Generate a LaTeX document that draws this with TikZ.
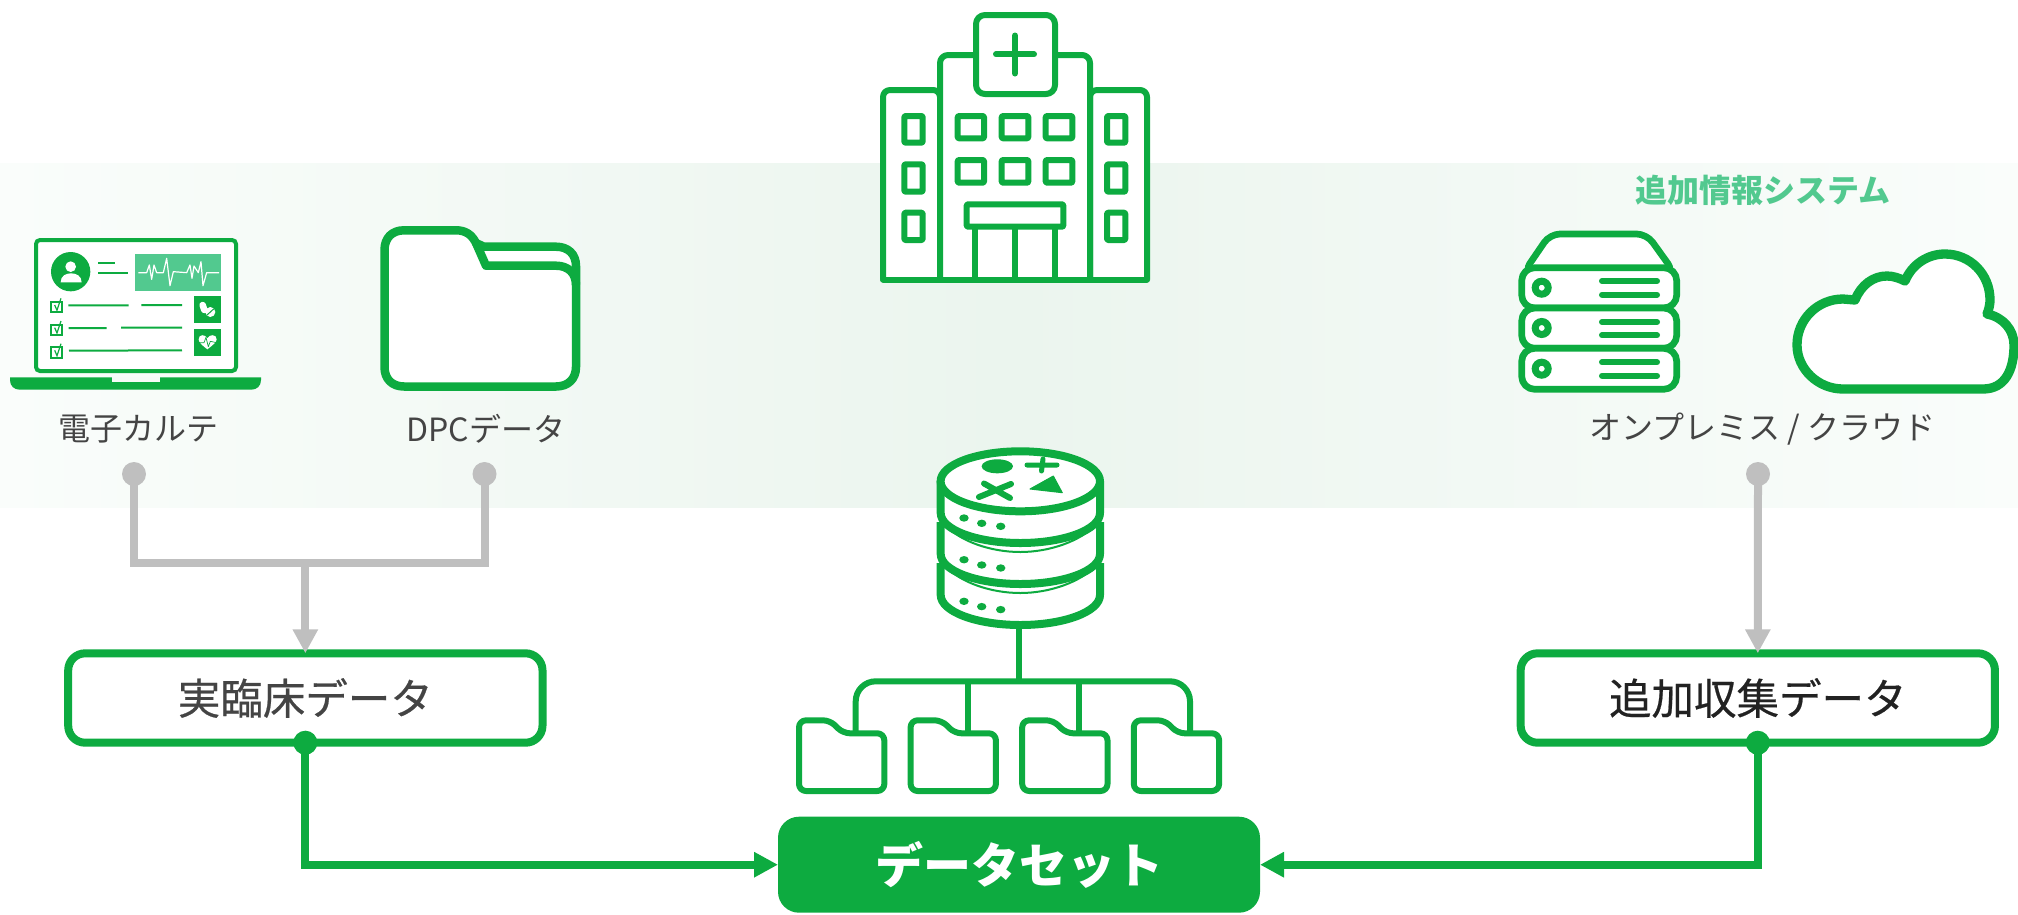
\documentclass[tikz,border=0pt]{standalone}
\usepackage{fontspec}
\setmainfont{Noto Sans CJK JP}
\newfontfamily\medfont[FakeBold=0.5]{Noto Sans CJK JP}
\usetikzlibrary{arrows.meta,calc}
\definecolor{gr}{HTML}{0DAB40}
\definecolor{lgr}{HTML}{52C98F}
\definecolor{gy}{HTML}{BFBFBF}
\definecolor{bandc}{HTML}{EBF5EE}
\definecolor{bande}{HTML}{FAFDFB}
\definecolor{ink}{HTML}{444444}
\definecolor{inkb}{HTML}{222222}
\tikzset{
 boxnode/.style={draw=gr,line width=8pt,fill=white,rounded corners=17pt,outer sep=0pt,inner sep=0pt,minimum height=89.4pt,minimum width=474.3pt,font=\medfont\fontsize{42.5}{50}\selectfont},
 datanode/.style={fill=gr,rounded corners=21pt,outer sep=0pt,inner sep=0pt,minimum width=482pt,minimum height=96pt,text=white,font=\bfseries\fontsize{48}{56}\selectfont},
 labelnode/.style={text=ink,inner sep=0pt,font=\fontsize{32}{38}\selectfont},
 titlenode/.style={text=lgr,inner sep=0pt,font=\bfseries\fontsize{32}{38}\selectfont},
 greydot/.style={circle,fill=gy,minimum size=24pt,inner sep=0pt,outer sep=0pt},
 greendot/.style={circle,fill=gr,minimum size=24pt,inner sep=0pt,outer sep=0pt},
 greyline/.style={draw=gy,line width=8pt,line join=miter},
 greenline/.style={draw=gr,line width=8pt,line join=miter},
 greyarrow/.style={greyline,-{Triangle[length=24pt,width=24pt]}},
 greenarrow/.style={greenline,-{Triangle[length=24pt,width=24pt]}},
 icon/.style={draw=gr,fill=white,line join=round},
 hosp/.style={icon,line width=6pt,rounded corners=3pt},
}
\begin{document}
\begin{tikzpicture}[x=1pt,y=-1pt]
\useasboundingbox (0,0) rectangle (2018,914);
% band
\shade[left color=bande,right color=bande,middle color=bandc] (0,163) rectangle (2018,507.5);

% ---- hospital
\draw[hosp,rounded corners=7pt] (883,279.5) -- (883,90) -- (940,90) -- (940,279.5);
\draw[hosp,rounded corners=7pt] (1147,279.5) -- (1147,90) -- (1090,90) -- (1090,279.5);
\draw[hosp,rounded corners=8pt] (940,279.5) -- (940,55) -- (1090,55) -- (1090,279.5);
\draw[hosp,line cap=round] (883,279.5) -- (1147,279.5);
\draw[hosp,rounded corners=9pt] (976,15) rectangle (1055,94);
\draw[gr,line width=6pt,line cap=round] (996,54.3) -- (1034,54.3) (1015,35.5) -- (1015,73.5);
\foreach \xa/\xb in {957.7/984,1001.7/1028.3,1045.7/1072.3}{
  \draw[hosp,rounded corners=1pt] (\xa,116) rectangle (\xb,138.3);
  \draw[hosp,rounded corners=1pt] (\xa,160) rectangle (\xb,182.7);
}
\foreach \ya/\yb in {116/142.7,164.3/191.7,212.7/240}{
  \draw[hosp,rounded corners=1pt] (904.3,\ya) rectangle (922.7,\yb);
  \draw[hosp,rounded corners=1pt] (1107,\ya) rectangle (1125.3,\yb);
}
\draw[gr,line width=6pt] (975,226.7) -- (975,279.5) (1015,226.7) -- (1015,279.5) (1055,226.7) -- (1055,279.5);
\draw[hosp,rounded corners=1pt] (966.7,204.3) rectangle (1063.3,226.7);

% ---- laptop
\draw[draw=gr,fill=white,line width=4pt,rounded corners=4pt] (36,240) rectangle (236,371);
\fill[gr] (10,377.3) -- (261,377.3) -- (261,380) .. controls (261,386) and (257,389.7) .. (251,389.7) -- (20,389.7) .. controls (14,389.7) and (10,386) .. (10,380) -- cycle;
\fill[bande!70!bandc] (112,377.3) rectangle (160,381.7);
\begin{scope}[shift={(30,230)},x=0.33333pt,y=-0.33333pt]
 \fill[gr] (122,125) circle[radius=59];
 \fill[white] (122,110) circle[radius=16];
 \fill[white] (92,157) .. controls (92,137) and (108,130) .. (123,130) .. controls (138,130) and (155,137) .. (155,157) -- cycle;
 \draw[gr,line width=2pt] (204,100) -- (255,100) (204,128) -- (294,128);
 \fill[lgr] (315,72) rectangle (573,182);
 \draw[white,line width=1.2pt,line join=round] (325,128) -- (350,128) -- (358,105) -- (365,148) -- (372,105) -- (380,128) -- (400,128) -- (410,85) -- (420,167) -- (430,125) -- (470,128) -- (480,105) -- (486,145) -- (492,108) -- (505,128) -- (513,95) -- (519,167) -- (530,128) -- (567,128);
 \foreach \ya in {0,68,136}{
  \draw[gr,line width=1.7pt] (64,\ya+216) rectangle (96,\ya+247);
  \draw[gr,line width=1.2pt] (74,\ya+225) -- (81,\ya+241) -- (93,\ya+205);
 }
 \draw[gr,line width=2pt] (115,226) -- (296,226) (334,225) -- (456,225) (116,294) -- (230,294) (273,293) -- (456,293) (117,362) -- (456,361);
 \fill[gr] (491,198) rectangle (573,280);
 \fill[gr] (491,297) rectangle (573,379);
 \draw[white,line width=6.5pt,line cap=round] (518,225) -- (523,240);
 \fill[white] (541,246) circle[radius=15];
 \draw[gr,line width=1pt] (530,256) -- (552,236);
 \fill[white] (532,358) .. controls (515,345) and (506,336) .. (506,328) .. controls (506,312) and (526,312) .. (532,325) .. controls (538,312) and (560,312) .. (560,328) .. controls (560,336) and (549,345) .. (532,358) -- cycle;
 \draw[gr,line width=0.7pt,line join=round] (506,338) -- (522,338) -- (528,322) -- (535,350) -- (541,334) -- (560,338);
\end{scope}

% ---- big folder
\draw[icon,line width=8.5pt] (384.5,250) .. controls (384.5,238) and (392,230.3) .. (404,230.3) -- (456,230.3) .. controls (466,230.3) and (472,235) .. (476,243) -- (484,246.7) -- (556,246.7) .. controls (568,246.7) and (576,254) .. (576,266) -- (576,367) .. controls (576,379) and (568,386.5) .. (556,386.5) -- (404,386.5) .. controls (392,386.5) and (384.5,379) .. (384.5,367) -- cycle;
\draw[draw=gr,line width=8.5pt,line join=round] (476,243) -- (486,265.7) -- (556,265.7) .. controls (568,265.7) and (576,273) .. (576,285);

% ---- server stack
\draw[icon,line width=6.7pt,rounded corners=10pt] (1524,272) -- (1550,234) -- (1646.7,234) -- (1674,272) -- cycle;
\foreach \ya/\yb/\c/\ba/\bb in {267.7/308/287.7/281/294.7,308/348.3/328/322/335.3,348.3/389.3/368.7/362.3/375.7}{
 \draw[icon,line width=6.7pt,rounded corners=13pt] (1521.7,\ya) rectangle (1676.7,\yb);
 \draw[gr,line width=7pt] (1541.7,\c) circle[radius=6.5];
 \draw[gr,line width=6pt,line cap=round] (1602,\ba) -- (1657,\ba) (1602,\bb) -- (1657,\bb);
}

% ---- cloud
\draw[icon,line width=9.3pt] (1843,389) .. controls (1818,389) and (1797,369) .. (1797,345) .. controls (1797,319) and (1818,299) .. (1843,299) -- (1855,300) .. controls (1861,285) and (1873,276) .. (1887,276) .. controls (1893,276) and (1899,278) .. (1905,281) .. controls (1912,264) and (1928,254) .. (1945,254) .. controls (1970,254) and (1990,274) .. (1990,300) .. controls (1990,304) and (1989,309) .. (1987,314) .. controls (2003,317) and (2014,330) .. (2014,345) .. controls (2014,370) and (2005,389) .. (1983,389) -- cycle;

% ---- database
\coordinate (dbbot) at (1019,629);
\coordinate (dbjoin) at (1019,681.3);
\draw[gr,line width=6pt] (dbbot) -- (dbjoin);
\draw[gr,line width=6pt,rounded corners=20pt] (855.7,733) -- (855.7,681.3) -- (1190,681.3) -- (1190,733);
\draw[gr,line width=6pt] (967.7,681.3) -- (967.7,733) (1079,681.3) -- (1079,733);
\foreach \o in {82,41,0}{
 \draw[icon,line width=8pt] (940.7,481+\o) -- (940.7,513+\o) .. controls (940.7,529.6+\o) and (976.4,543+\o) .. (1020.3,543+\o) .. controls (1064.3,543+\o) and (1100,529.6+\o) .. (1100,513+\o) -- (1100,481+\o);
}
\draw[gr,line width=2pt] (945,525) .. controls (960,541) and (990,552) .. (1020.3,552) .. controls (1050,552) and (1080,541) .. (1096,525);
\draw[gr,line width=2pt] (945,566) .. controls (960,582) and (990,593) .. (1020.3,593) .. controls (1050,593) and (1080,582) .. (1096,566);
\foreach \o in {0,41.7,83.3}{
 \fill[gr] (964,518+\o) ellipse[x radius=4.7,y radius=3.7];
 \fill[gr] (981.7,523.3+\o) ellipse[x radius=4.7,y radius=3.7];
 \fill[gr] (1000.7,526.3+\o) ellipse[x radius=4.7,y radius=3.7];
}
\draw[icon,line width=8pt] (1020.3,481.3) ellipse[x radius=79.7,y radius=30];
\fill[gr] (997.3,466.3) ellipse[x radius=15.7,y radius=7];
\draw[gr,line width=5pt,line cap=round] (1027,465) -- (1057,465) (1043,459) -- (1041.5,471);
\draw[gr,line width=6pt,line cap=round] (979,497) -- (1011,484) (984,483.5) -- (1010,498);
\fill[gr,draw=gr,line width=1pt,line join=round] (1030,489) -- (1053.3,476) -- (1062.3,492.7) -- cycle;

% ---- small folders
\foreach \d in {0,111.6,223.2,334.8}{
 \begin{scope}[xshift=\d pt]
  \draw[icon,line width=6pt,rounded corners=7pt] (799,760) -- (799,720.3) -- (830,720.3) -- (843,733.3) -- (884.3,733.3) -- (884.3,791) -- (799,791) -- cycle;
 \end{scope}
}

% ---- labels
\node[labelnode] (lemr) at (138.5,429) {電子カルテ};
\node[labelnode] (ldpc) at (486,429) {DPCデータ};
\node[labelnode] (lonp) at (1762.5,429) {オンプレミス / クラウド};
\node[titlenode] (ltitle) at (1762.5,190) {追加情報システム};

% ---- boxes
\node[boxnode,text=ink] (real) at (305.35,698) {実臨床データ};
\node[boxnode,text=inkb] (extra) at (1757.8,698) {追加収集データ};
\node[datanode] (data) at (1019,864.7) {データセット};

% ---- connectors
\node[greydot] (d1) at (134,474) {};
\node[greydot] (d2) at (484.5,474) {};
\node[greydot] (d3) at (1758,474) {};
\node[greendot] (g1) at (real.south) {};
\node[greendot] (g2) at (extra.south) {};
\coordinate (j1) at (134,563.3);
\coordinate (j2) at (484.5,563.3);
\coordinate (jm) at (305.35,563.3);
\draw[greyline] (d1.center) -- (j1) -- (j2) -- (d2.center);
\draw[greyarrow] (jm) -- (real.north);
\draw[greyarrow] (d3.center) -- (extra.north);
\draw[greenarrow] (g1.center) |- (data.west);
\draw[greenarrow] (g2.center) |- (data.east);
\end{tikzpicture}
\end{document}
